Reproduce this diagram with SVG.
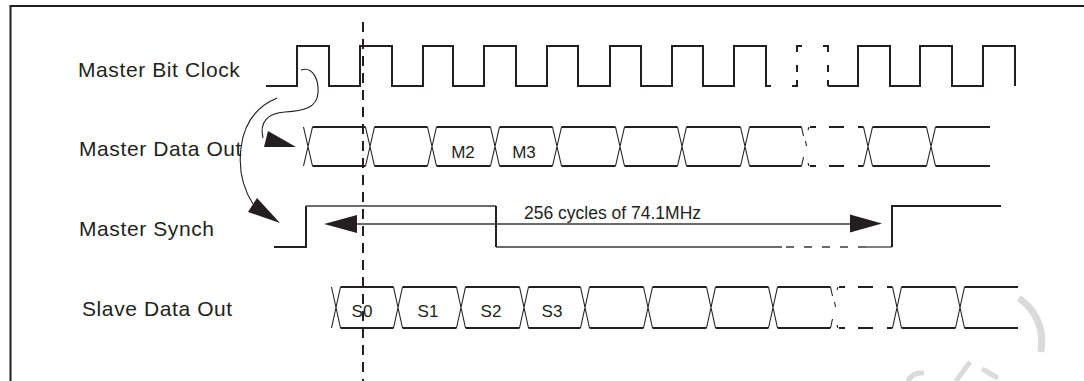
<svg xmlns="http://www.w3.org/2000/svg" width="1084" height="381" viewBox="0 0 1084 381">
<style>
.lbl{font-family:"Liberation Sans",Arial,Helvetica,sans-serif;font-size:21px;letter-spacing:0.6px;fill:#231f20}
.sm{font-family:"Liberation Sans",Arial,Helvetica,sans-serif;font-size:17px;fill:#231f20;text-anchor:middle}
.mid{font-family:"Liberation Sans",Arial,Helvetica,sans-serif;font-size:17.5px;fill:#231f20}
.thick{fill:none;stroke:#231f20;stroke-width:2}
.thin{fill:none;stroke:#231f20;stroke-width:1.1}
.gthin{fill:none;stroke:#3a3a3a;stroke-width:1.3}
.head{fill:#231f20;stroke:none}
</style>
<rect width="1084" height="381" fill="#ffffff"/>
<g id="frame"><path class="thick" d="M10.5,381 V6 H1084"/></g>
<g id="watermark" fill="none" stroke="#dadada" stroke-width="7">
<path d="M1019,298 Q1046,318 1041,352"/>
<path d="M908,381 Q912,372 924,373" stroke-width="5"/>
<path d="M956,381 L970,362" stroke-width="5"/>
<path d="M982,369 L998,378" stroke-width="5"/>
</g>
<g id="labels">
<text class="lbl" x="78" y="77">Master Bit Clock</text>
<text class="lbl" x="79" y="156">Master Data Out</text>
<text class="lbl" x="79" y="236">Master Synch</text>
<text class="lbl" x="82" y="316">Slave Data Out</text>
</g>
<g id="master-bit-clock">
<path class="thick" d="M266,86 H297 V46 H329 V86 H360 V46 H392 V86 H423 V46 H453 V86 H484 V46 H516 V86 H547 V46 H578 V86 H610 V46 H641 V86 H672 V46 H703 V86 H734 V46 H766 V86 H771"/>
<path class="thick" d="M792,86 H797 V80 M797,72 V65 M797,52 V46 H802 M823,46 H828 V52 M828,65 V72 M828,80 V86"/>
<path class="thick" d="M828,86 H858 V46 H890 V86 H920 V46 H952 V86 H983 V46 H1015 V86"/>
</g>
<g id="master-data-out">
<path class="thick" d="M312.5,127 H365.5 M374.5,127 H427.5 M436.5,127 H490.5 M499.5,127 H552.5 M561.5,127 H615.5 M624.5,127 H677.5 M686.5,127 H740.5 M749.5,127 H801.5 M810,127 H816 M829,127 H844 M858,127 H863.5 M872.5,127 H926.5 M935.5,127 H990"/>
<path class="thick" d="M312.5,166 H365.5 M374.5,166 H427.5 M436.5,166 H490.5 M499.5,166 H552.5 M561.5,166 H615.5 M624.5,166 H677.5 M686.5,166 H740.5 M749.5,166 H801.5 M810,166 H816 M829,166 H844 M858,166 H863.5 M872.5,166 H926.5 M935.5,166 H990"/>
<path class="thin" d="M303.5,127 L312.5,166 M303.5,166 L312.5,127 M365.5,127 L374.5,166 M365.5,166 L374.5,127 M427.5,127 L436.5,166 M427.5,166 L436.5,127 M490.5,127 L499.5,166 M490.5,166 L499.5,127 M552.5,127 L561.5,166 M552.5,166 L561.5,127 M615.5,127 L624.5,166 M615.5,166 L624.5,127 M677.5,127 L686.5,166 M677.5,166 L686.5,127 M740.5,127 L749.5,166 M740.5,166 L749.5,127 M863.5,127 L872.5,166 M863.5,166 L872.5,127 M926.5,127 L935.5,166 M926.5,166 L935.5,127"/>
<path class="thin" d="M801.5,127 L803.5,136 M801.5,166 L803.5,157 M805.5,141 L806.5,146 M808,130 L809,127 M808,163 L809,166"/>
<text class="sm" x="463" y="158">M2</text>
<text class="sm" x="524" y="158">M3</text>
</g>
<g id="master-synch">
<path class="thick" d="M274,247 H306 V206"/>
<path class="gthin" d="M306,206 H496"/>
<path class="thick" d="M496,206 V247"/>
<path class="gthin" d="M496,247 H782"/>
<path class="gthin" d="M782,247 H866" stroke-dasharray="8 10" stroke-dashoffset="-4"/>
<path class="gthin" d="M866,247 H892"/>
<path class="thick" d="M892,247 V206 H1001"/>
<text class="mid" x="524" y="219">256 cycles of 74.1MHz</text>
</g>
<g id="slave-data-out">
<path class="thick" d="M340.5,287 H393.5 M402.5,287 H456.5 M465.5,287 H519.5 M528.5,287 H580.5 M589.5,287 H643.5 M652.5,287 H706.5 M715.5,287 H768.5 M777.5,287 H830.5 M839,287 H845 M858,287 H873 M887,287 H892.5 M901.5,287 H955.5 M964.5,287 H1018"/>
<path class="thick" d="M340.5,328 H393.5 M402.5,328 H456.5 M465.5,328 H519.5 M528.5,328 H580.5 M589.5,328 H643.5 M652.5,328 H706.5 M715.5,328 H768.5 M777.5,328 H830.5 M839,328 H845 M858,328 H873 M887,328 H892.5 M901.5,328 H955.5 M964.5,328 H1018"/>
<path class="thin" d="M331.5,287 L340.5,328 M331.5,328 L340.5,287 M393.5,287 L402.5,328 M393.5,328 L402.5,287 M456.5,287 L465.5,328 M456.5,328 L465.5,287 M519.5,287 L528.5,328 M519.5,328 L528.5,287 M580.5,287 L589.5,328 M580.5,328 L589.5,287 M643.5,287 L652.5,328 M643.5,328 L652.5,287 M706.5,287 L715.5,328 M706.5,328 L715.5,287 M768.5,287 L777.5,328 M768.5,328 L777.5,287 M892.5,287 L901.5,328 M892.5,328 L901.5,287 M955.5,287 L964.5,328 M955.5,328 L964.5,287"/>
<path class="thin" d="M830.5,287 L832.5,296 M830.5,328 L832.5,319 M834.5,302 L835.5,307 M837,290 L838,287 M837,325 L838,328"/>
<text class="sm" x="362" y="317">S0</text>
<text class="sm" x="428" y="317">S1</text>
<text class="sm" x="491" y="317">S2</text>
<text class="sm" x="552" y="317">S3</text>
</g>
<g id="connectors">
<path class="thick" d="M363,22 V381" stroke-dasharray="10 7"/>
<path class="thin" d="M301,70 C313,66 319,80 318,93 C317,108 303,111 285,112 C268,113 259,122 263,138"/>
<polygon class="head" points="268,131 264,147 296,147"/>
<path class="thin" d="M277,98 C258,106 244,122 241,148 C238,172 244,190 253,204"/>
<polygon class="head" points="257,198 248,212 280,223"/>
<path class="gthin" d="M355,224 H852"/>
<polygon class="head" points="324,224 357,215 357,233"/>
<polygon class="head" points="882,223.5 850,214.5 850,232.5"/>
</g>
</svg>
